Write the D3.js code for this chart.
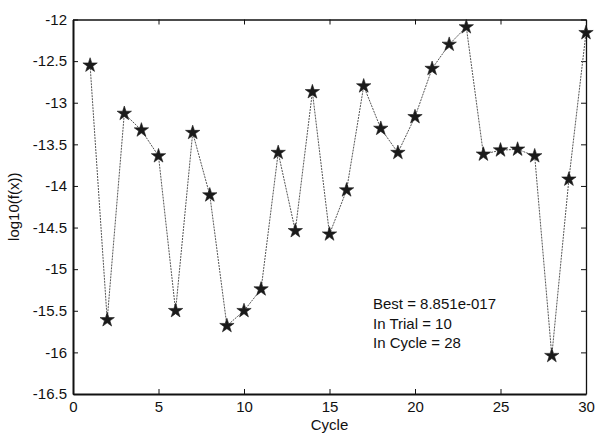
<!DOCTYPE html>
<html>
<head>
<meta charset="utf-8">
<script src="https://cdn.jsdelivr.net/npm/d3@7"></script>
<style>
  html, body { margin: 0; padding: 0; background: #fff; }
  svg { display: block; font-family: "Liberation Sans", Arial, sans-serif; }
</style>
</head>
<body>
<svg id="chart" width="596" height="434"></svg>
<script>
// Best log10 objective value reached in each cycle
const cycles = d3.range(1, 31);
const logValues = [
  -12.55, -15.61, -13.13, -13.33, -13.64, -15.50, -13.36, -14.11, -15.68, -15.50,
  -15.24, -13.60, -14.54, -12.87, -14.58, -14.05, -12.80, -13.31, -13.60, -13.17,
  -12.59, -12.30, -12.09, -13.62, -13.57, -13.56, -13.64, -16.04, -13.92, -12.16
];
const xTicks = [0, 5, 10, 15, 20, 25, 30];
const yTicks = [-12, -12.5, -13, -13.5, -14, -14.5, -15, -15.5, -16, -16.5];
const notes = ["Best = 8.851e-017", "In Trial = 10", "In Cycle = 28"];

const svg = d3.select("#chart");
const plotLeft = 73, plotRight = 586, plotTop = 19.5, plotBottom = 394;

const x = d3.scaleLinear().domain([0, 30]).range([plotLeft, plotRight]);
const y = d3.scaleLinear().domain([-16.5, -12]).range([plotBottom, plotTop]);

const fmt = d => String(d);

// ticks on all four sides, pointing inward
function styleAxis(g, width) {
  g.select(".domain").attr("stroke", "#111").attr("stroke-width", width);
  g.selectAll(".tick line").attr("stroke", "#111").attr("stroke-width", 1);
  g.selectAll(".tick text").attr("fill", "#111").attr("font-size", 15)
    .attr("font-family", "Liberation Sans, Arial, sans-serif");
}

svg.append("g").attr("transform", `translate(0,${plotTop})`)
  .call(d3.axisTop(x).tickValues(xTicks).tickSize(-5).tickSizeOuter(0).tickFormat(""))
  .call(g => styleAxis(g, 1.3));
svg.append("g").attr("transform", `translate(${plotRight},0)`)
  .call(d3.axisRight(y).tickValues(yTicks).tickSize(-5).tickSizeOuter(0).tickFormat(""))
  .call(g => styleAxis(g, 1.3));

svg.append("g").attr("transform", `translate(0,${plotBottom})`)
  .call(d3.axisBottom(x).tickValues(xTicks).tickSize(-5).tickSizeOuter(0).tickPadding(7).tickFormat(fmt))
  .call(g => styleAxis(g, 2));
svg.append("g").attr("transform", `translate(${plotLeft},0)`)
  .call(d3.axisLeft(y).tickValues(yTicks).tickSize(-5).tickSizeOuter(0).tickPadding(6).tickFormat(fmt))
  .call(g => styleAxis(g, 2));

// dotted connecting line
const line = d3.line().x((d, i) => x(cycles[i])).y(d => y(d));
svg.append("path")
  .datum(logValues)
  .attr("d", line)
  .attr("fill", "none")
  .attr("stroke", "#555")
  .attr("stroke-width", 1)
  .attr("stroke-dasharray", "2,1");

// star markers
svg.append("g").selectAll("path.star")
  .data(logValues)
  .join("path")
  .attr("class", "star")
  .attr("transform", (d, i) => `translate(${x(cycles[i])},${y(d)})`)
  .attr("d", d3.symbol(d3.symbolStar, 64))
  .attr("fill", "#1a1a1a")
  .attr("stroke", "#1a1a1a")
  .attr("stroke-width", 0.6);

// axis titles
svg.append("text")
  .attr("x", (plotLeft + plotRight) / 2).attr("y", 430)
  .attr("text-anchor", "middle").attr("font-size", 15).attr("fill", "#111")
  .text("Cycle");
svg.append("text")
  .attr("transform", `translate(19,${(plotTop + plotBottom) / 2}) rotate(-90)`)
  .attr("text-anchor", "middle").attr("font-size", 15).attr("fill", "#111")
  .text("log10(f(x))");

// summary annotation
svg.append("g").selectAll("text")
  .data(notes)
  .join("text")
  .attr("x", 373)
  .attr("y", (d, i) => 309 + i * 19.6)
  .attr("font-size", 15)
  .attr("fill", "#111")
  .text(d => d);
</script>
</body>
</html>
